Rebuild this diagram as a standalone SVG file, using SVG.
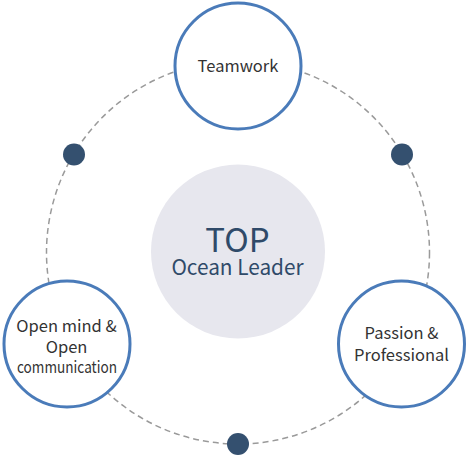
<svg xmlns="http://www.w3.org/2000/svg" width="467" height="456" viewBox="0 0 467 456">
<style>
.node{fill:#fff;stroke:#4a7bb9;stroke-width:3}
.lbl{font-family:"Noto Sans CJK KR","Noto Sans",sans-serif;font-size:16.5px;fill:#333;text-anchor:middle}
.dot{fill:#34506f}
.ring{fill:none;stroke:#9a9a9a;stroke-width:1.5;stroke-dasharray:6 4}
.ctr{font-family:"Noto Sans CJK KR","Noto Sans",sans-serif;fill:#2f4a69;text-anchor:middle}
</style>
<g id="connectors">
<circle class="ring" cx="238" cy="252.5" r="191.5"/>
<circle class="dot" cx="74" cy="154.5" r="11"/>
<circle class="dot" cx="402" cy="154.5" r="11"/>
<circle class="dot" cx="238" cy="444" r="11"/>
</g>
<g id="center">
<circle cx="238" cy="251.5" r="87" fill="#e7e7ee"/>
<text class="ctr" x="237.5" y="251.5" font-size="33">TOP</text>
<text class="ctr" x="237.5" y="275" font-size="20.8">Ocean Leader</text>
</g>
<g id="teamwork">
<circle class="node" cx="238" cy="66" r="63"/>
<text class="lbl" x="238" y="72">Teamwork</text>
</g>
<g id="openmind">
<circle class="node" cx="67" cy="344" r="63"/>
<text class="lbl" x="66.5" y="331.5">Open mind &amp;</text>
<text class="lbl" x="66.5" y="352.5">Open</text>
<text class="lbl" x="67" y="372.5" textLength="100" lengthAdjust="spacingAndGlyphs">communication</text>
</g>
<g id="passion">
<circle class="node" cx="401.5" cy="344" r="63"/>
<text class="lbl" x="401.5" y="339">Passion &amp;</text>
<text class="lbl" x="401.5" y="360.5">Professional</text>
</g>
</svg>
